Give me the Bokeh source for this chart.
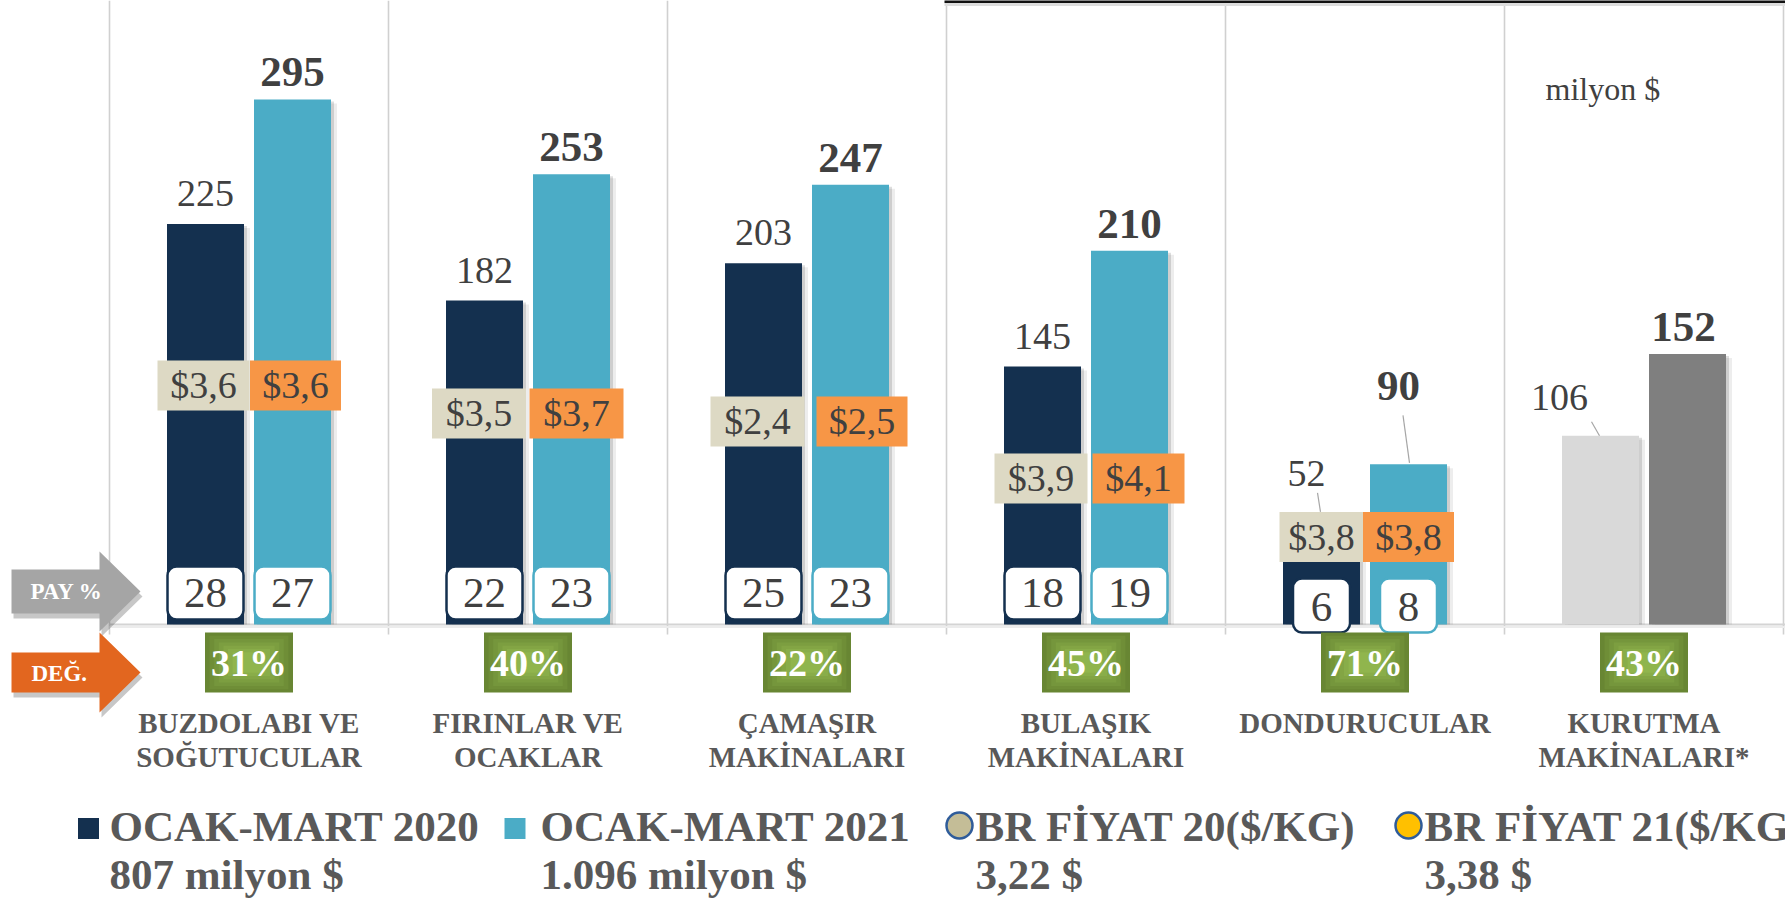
from bokeh.plotting import figure
from bokeh.models import Range1d
from bokeh.embed import file_html
from bokeh.resources import INLINE
from bokeh.core.properties import value

# ---------------- data ----------------
categories = ["BUZDOLABI VE\nSOĞUTUCULAR", "FIRINLAR VE\nOCAKLAR", "ÇAMAŞIR\nMAKİNALARI",
              "BULAŞIK\nMAKİNALARI", "DONDURUCULAR", "KURUTMA\nMAKİNALARI*"]
export_2020 = [225, 182, 203, 145, 52, 106]
export_2021 = [295, 253, 247, 210, 90, 152]
price_2020 = [3.6, 3.5, 2.4, 3.9, 3.8]
price_2021 = [3.6, 3.7, 2.5, 4.1, 3.8]
share_2020 = [28, 22, 25, 18, 6]
share_2021 = [27, 23, 23, 19, 8]
change_pct = [31, 40, 22, 45, 71, 43]
legend_titles = ["OCAK-MART 2020", "OCAK-MART 2021", "BR FİYAT 20($/KG)", "BR FİYAT 21($/KG)"]
legend_totals = ["807 milyon $", "1.096 milyon $", "3,22 $", "3,38 $"]
unit_label = "milyon $"
share_arrow_label = "PAY %"
change_arrow_label = "DEĞ."

# ---------------- layout / style ----------------
FONT = value("Liberation Serif")
W, H = 1785, 901
M = 0
CAT_PX = 279.0
UNIT_PX = 1.78
CAT0_CENTER = 248.5
BASE_Y = 624.0
BASELINE_FIX = 0.375  # rendered alphabetic baseline sits this many em lower

x_start = 0.5 - (CAT0_CENTER - M) / CAT_PX
x_end = x_start + W / CAT_PX
y_top = (BASE_Y - M) / UNIT_PX
y_bot = y_top - H / UNIT_PX


def X(px):
    return x_start + (px - M) / CAT_PX


def Y(py):
    return y_top - (py - M) / UNIT_PX


def DX(px):
    return px / CAT_PX


def DY(px):
    return px / UNIT_PX


NAVY = "#14304f"
BLUE = "#4bacc6"
LGRAY = "#d9d9d9"
DGRAY = "#7f7f7f"
BEIGE = "#ddd9c4"
ORANGE = "#f79646"
LABEL = "#404040"
TEXT2 = "#595959"

p = figure(width=W, height=H, x_range=Range1d(x_start, x_end), y_range=Range1d(y_bot, y_top),
           toolbar_location=None, output_backend="svg", min_border=0,
           x_axis_location=None, y_axis_location=None)
p.grid.visible = False
p.outline_line_color = None
p.background_fill_color = "white"
p.border_fill_color = "white"


def put_text(xs, ys_data, texts, size, bold=False, color=LABEL, align="center"):
    """ys_data are data-space baselines; corrected for the renderer's baseline offset."""
    p.text(x=xs, y=[y + DY(BASELINE_FIX * size) for y in ys_data], text=texts,
           text_font=FONT, text_font_size=f"{size}px",
           text_font_style="bold" if bold else "normal", text_color=color,
           text_align=align, text_baseline="alphabetic")


n = len(categories)
centers = [i + 0.5 for i in range(n)]
off = DX(43.5)
bw = DX(77)
x20 = [c - off for c in centers]
x21 = [c + off for c in centers]
col20 = [NAVY] * 5 + [LGRAY]
col21 = [BLUE] * 5 + [DGRAY]

# grid lines at category boundaries
bounds = list(range(n + 1))
p.segment(x0=bounds, x1=bounds, y0=[y_top] * len(bounds), y1=[Y(634)] * len(bounds),
          line_color="#d0d0d0", line_width=1.6)
# baseline
p.segment(x0=[X(109)], x1=[x_end], y0=[0], y1=[0], line_color="#d4d4d4", line_width=2.2)
p.segment(x0=[X(109)], x1=[x_end], y0=[-DY(2.5)], y1=[-DY(2.5)], line_color="#ececec", line_width=2)
# dark line at top right
p.segment(x0=[X(944)], x1=[x_end], y0=[Y(1)], y1=[Y(1)], line_color="#111111", line_width=3)
p.segment(x0=[X(944)], x1=[x_end], y0=[Y(4)], y1=[Y(4)], line_color="#dddddd", line_width=3)

# bar shadows
for xs, vals in ((x20, export_2020), (x21, export_2021)):
    p.vbar(x=[x + DX(3) for x in xs], top=[v - DY(2) for v in vals], bottom=0, width=bw,
           fill_color="#000000", fill_alpha=0.13, line_color=None)
    p.vbar(x=[x + DX(6) for x in xs], top=[v - DY(4) for v in vals], bottom=0, width=bw,
           fill_color="#000000", fill_alpha=0.07, line_color=None)

# bars
p.vbar(x=x20, top=export_2020, bottom=0, width=bw, fill_color=col20, line_color=None)
p.vbar(x=x21, top=export_2021, bottom=0, width=bw, fill_color=col21, line_color=None)

# value labels (offset overrides for crowded labels: (dx px, px above bar top))
lab20_off = [(0, 16)] * 4 + [(-15, 44), (-41, 24)]
lab21_off = [(0, 11)] * 4 + [(-10, 62.5), (-4, 11)]
put_text([x + DX(o[0]) for x, o in zip(x20, lab20_off)],
         [v + DY(o[1]) for v, o in zip(export_2020, lab20_off)],
         [str(v) for v in export_2020], 38)
put_text([x + DX(o[0]) for x, o in zip(x21, lab21_off)],
         [v + DY(o[1]) for v, o in zip(export_2021, lab21_off)],
         [str(v) for v in export_2021], 43, bold=True)

# leader lines (relative to bar centre / bar top, px)
leaders = [(x20, export_2020, 4, (-4, 39), (-1, 20)),
           (x21, export_2021, 4, (-5.5, 49), (1, 1.5)),
           (x20, export_2020, 5, (-9, 14), (-1, 0))]
for xs, vals, i, s, e in leaders:
    p.segment(x0=[xs[i] + DX(s[0])], y0=[vals[i] + DY(s[1])],
              x1=[xs[i] + DX(e[0])], y1=[vals[i] + DY(e[1])],
              line_color="#a6a6a6", line_width=1.2)

# price boxes
np_ = len(price_2020)
price_cy = [385, 413, 421, 478, 536.5]
beige_dx = [-2, -5.5, -6, -1.5, 0]
orange_dx = [3, 5, 11.5, 9, 0]
beige_w = [92, 94, 94, 93, 84]
orange_w = [91, 94, 91, 92, 91]
bcx = [X(CAT0_CENTER + CAT_PX * i - 43.5 + beige_dx[i]) for i in range(np_)]
ocx = [X(CAT0_CENTER + CAT_PX * i + 43.5 + orange_dx[i]) for i in range(np_)]
p.quad(left=[c - DX(w / 2) for c, w in zip(bcx, beige_w)],
       right=[c + DX(w / 2) for c, w in zip(bcx, beige_w)],
       top=[Y(cy - 25) for cy in price_cy], bottom=[Y(cy + 25) for cy in price_cy],
       fill_color=BEIGE, line_color=None)
p.quad(left=[c - DX(w / 2) for c, w in zip(ocx, orange_w)],
       right=[c + DX(w / 2) for c, w in zip(ocx, orange_w)],
       top=[Y(cy - 25) for cy in price_cy], bottom=[Y(cy + 25) for cy in price_cy],
       fill_color=ORANGE, line_color=None)


def fmt_price(v):
    return "$" + f"{v:.1f}".replace(".", ",")


put_text(bcx, [Y(cy + 14) for cy in price_cy], [fmt_price(v) for v in price_2020], 38)
put_text(ocx, [Y(cy + 14) for cy in price_cy], [fmt_price(v) for v in price_2021], 38)

# share boxes
ns = len(share_2020)
sb_w = [76] * 4 + [57]
sb_top = [566] * 4 + [578]
sb_bot = [619] * 4 + [632]
sb_base = [609] * 4 + [623]
for xs, vals, border in ((x20, share_2020, NAVY), (x21, share_2021, BLUE)):
    p.quad(left=[xs[i] - DX(sb_w[i] / 2) for i in range(ns)],
           right=[xs[i] + DX(sb_w[i] / 2) for i in range(ns)],
           top=[Y(sb_top[i]) for i in range(ns)], bottom=[Y(sb_bot[i]) for i in range(ns)],
           fill_color="white", line_color=border, line_width=2.5, border_radius=9)
    put_text(xs[:ns], [Y(b) for b in sb_base], [str(v) for v in vals], 43)

# change boxes (stepped radial gradient)
g_out = (0x68, 0x86, 0x33)
g_in = (0x90, 0xb5, 0x4d)
steps = 7
for k in range(steps):
    t = k / (steps - 1)
    rgb = tuple(int(round(a + (b - a) * t)) for a, b in zip(g_out, g_in))
    col = "#%02x%02x%02x" % rgb
    ix = 44 - k * 4.6
    iy = 30 - k * 3.3
    p.quad(left=[c - DX(ix) for c in centers], right=[c + DX(ix) for c in centers],
           top=[Y(662 - iy)] * n, bottom=[Y(662 + iy)] * n, fill_color=col, line_color=None)
put_text(centers, [Y(677)] * n, [f"{v}%" for v in change_pct], 38, bold=True, color="white")

# category labels
line1 = [c.split("\n")[0] for c in categories]
line2 = [c.split("\n")[1] if "\n" in c else "" for c in categories]
put_text(centers, [Y(733)] * n, line1, 29, bold=True, color=TEXT2)
put_text(centers, [Y(767)] * n, line2, 29, bold=True, color=TEXT2)

# unit label
put_text([X(1545)], [Y(100)], [unit_label], 32, align="left")


# arrows on the left
def arrow(cy, body_h, head_h, color, x0=11, xb=99, tip=140):
    xs = [x0, xb, xb, tip, xb, xb, x0]
    ys = [cy - body_h, cy - body_h, cy - head_h, cy, cy + head_h, cy + body_h, cy + body_h]
    p.patch(x=[X(v + 2) for v in xs], y=[Y(v + 5) for v in ys], fill_color="#000000",
            fill_alpha=0.22, line_color=None)
    p.patch(x=[X(v) for v in xs], y=[Y(v) for v in ys], fill_color=color, line_color=None)


arrow(591, 22, 40, "#a5a5a5")
arrow(672, 20, 40, "#e2661f")
put_text([X(30), X(31)], [Y(600), Y(682)], [share_arrow_label, change_arrow_label], 23,
         bold=True, color="white", align="left")

# legend
leg_marker_x = [88, 514.5, 959, 1408]
leg_text_x = [109, 540, 975, 1424]
p.rect(x=[X(leg_marker_x[0]), X(leg_marker_x[1])], y=[Y(828)] * 2, width=DX(21), height=DY(21),
       fill_color=[NAVY, BLUE], line_color=None)
p.scatter(x=[X(leg_marker_x[2]), X(leg_marker_x[3])], y=[Y(825)] * 2, size=26,
          fill_color=["#c4bd97", "#ffc000"], line_color="#2f5c9a", line_width=2.5)
put_text([X(v) for v in leg_text_x], [Y(842)] * 4, legend_titles, 43, bold=True,
         color=TEXT2, align="left")
put_text([X(v) for v in leg_text_x], [Y(890)] * 4, legend_totals, 43, bold=True,
         color=TEXT2, align="left")

open("out.html", "w").write(file_html(p, INLINE))
